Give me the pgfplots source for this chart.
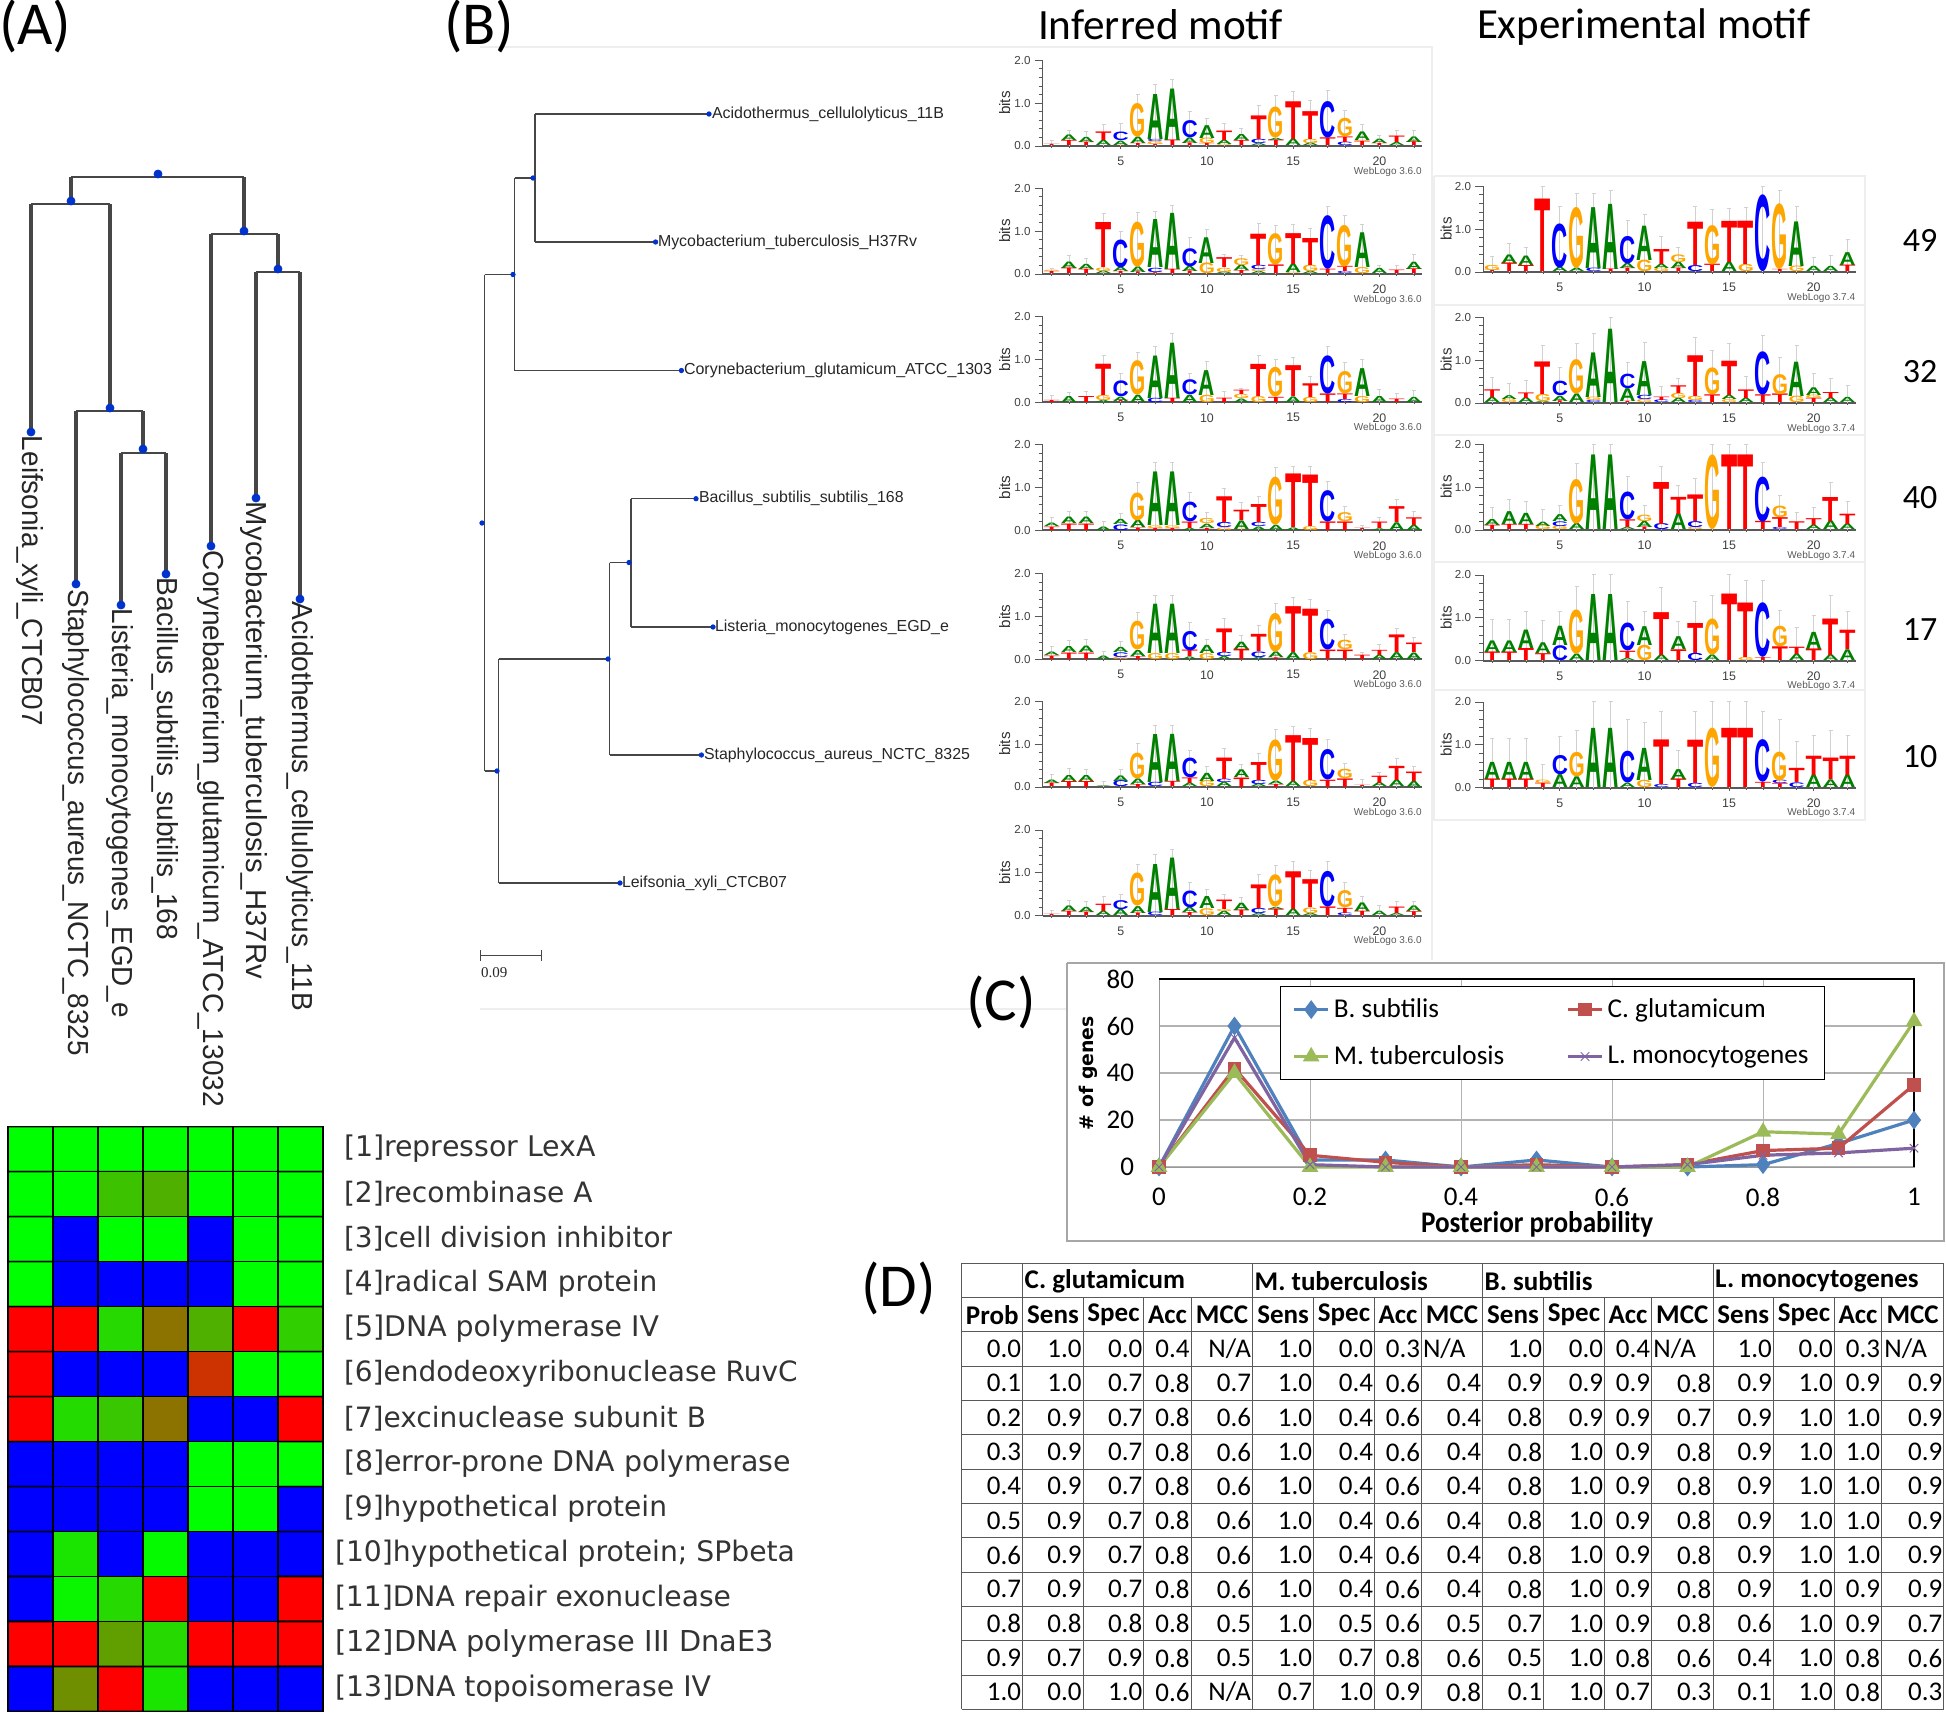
\documentclass[border=0pt]{standalone}
\usepackage{fontspec}
\usepackage{pgfplots}
\pgfplotsset{compat=1.18}
\setmainfont{Liberation Sans}
\newfontfamily\carlito{Carlito}
\newfontfamily\djv{DejaVu Sans}
\newfontfamily\libserif{Liberation Serif}
\definecolor{colA}{RGB}{0,128,0}
\definecolor{colC}{RGB}{0,0,255}
\definecolor{colG}{RGB}{255,165,0}
\definecolor{colT}{RGB}{255,0,0}
\definecolor{cB}{RGB}{79,129,189}
\definecolor{cR}{RGB}{192,80,77}
\definecolor{cG}{RGB}{155,187,89}
\definecolor{cP}{RGB}{128,100,162}
\definecolor{dot}{RGB}{0,50,205}
\definecolor{treeln}{RGB}{70,70,70}
\definecolor{faint}{RGB}{238,238,238}
\newcommand\stacks[1]{%
  \gdef\coords{}%
  \foreach \p/\e/\s in {#1}{\xdef\coords{\coords (\p,\e)}}%
  \edef\temp{\noexpand\addplot[ycomb,color=black!18,line width=.5pt,mark=-,mark size=1pt,mark options={black!18}] coordinates {\coords};}\temp
  \foreach \p/\e/\s in {#1}{%
    \xdef\bb{0}%
    \foreach \L/\h in \s {%
      \pgfmathsetmacro\H{\h*21.43}%
      \edef\temp{\noexpand\node[inner sep=0pt,outer sep=0pt,anchor=south,text=col\L] at (axis cs:\p,\bb) {\noexpand\resizebox*{8.1pt}{\H pt}{\noexpand\bfseries \L}};}%
      \temp
      \pgfmathsetmacro\nb{\bb+\h}\xdef\bb{\nb}%
    }%
  }%
}
\pgfplotsset{logoaxis/.style={anchor=south west,scale only axis,height=42.85pt,clip=false,
  xmin=.475,xmax=22.47,ymin=0,ymax=2,
  axis x line=bottom,axis y line=left,axis line style={-,black!65},
  x axis line style={line width=.9pt},
  xtick={5,10,15,20},xticklabels={5,10,15,20},minor xtick={1,...,22},
  ytick={0,1,2},yticklabels={0.0,1.0,2.0},minor y tick num=4,
  tick align=outside,major tick length=4pt,minor tick length=2pt,
  every tick/.style={black!65,line width=.4pt},
  xtick style={/pgfplots/major tick length=1.5pt,/pgfplots/minor tick length=1pt},
  tick label style={text=black!75},
  xticklabel style={font=\fontsize{6.2}{7}\selectfont,yshift=2pt},
  yticklabel style={font=\fontsize{5.8}{7}\selectfont,xshift=1.4pt},
  ylabel={bits},
  every axis y label/.style={at={(axis description cs:-0.1,0.5)},rotate=90,anchor=center,font=\fontsize{7.6}{9}\selectfont,text=black!80},
}}
\newcommand\logoL[2]{%
\begin{axis}[logoaxis,at={({1042.7*0.5pt},{(1715-#1)*0.5pt})},width=189.65pt]
\stacks{#2}
\node[anchor=east,font=\fontsize{5}{6}\selectfont,text=black!65,inner sep=0pt] at (rel axis cs:1,-.3) {WebLogo 3.6.0};
\end{axis}}
\newcommand\logoR[2]{%
\begin{axis}[logoaxis,at={({1483.3*0.5pt},{(1715-#1)*0.5pt})},width=186.1pt]
\stacks{#2}
\node[anchor=east,font=\fontsize{5}{6}\selectfont,text=black!65,inner sep=0pt] at (rel axis cs:1,-.3) {WebLogo 3.7.4};
\end{axis}}
\begin{document}
\begin{tikzpicture}
\path[use as bounding box] (0,0) rectangle (973pt,857.5pt);
% ---------- overlay axis in picture pixels: trees
\begin{axis}[at={(0,0)},anchor=south west,scale only axis,width=973pt,height=857.5pt,
  xmin=0,xmax=1946,ymin=0,ymax=1715,y dir=reverse,hide axis,clip=false,unbounded coords=jump]
% faint frames
\addplot[color=faint,line width=.8pt] coordinates {(480,47)(1432,47)(1432,960)};
\addplot[color=faint,line width=.8pt] coordinates {(480,1009)(1067,1009)};
\addplot[color=faint,line width=.8pt] coordinates {(1434,176)(1865,176)(1865,820)(1434,820)(1434,176) (0,nan) (1434,305)(1865,305) (0,nan) (1434,435)(1865,435) (0,nan) (1434,562)(1865,562) (0,nan) (1434,690)(1865,690)};
% tree A
\addplot[color=treeln,line width=.9pt] coordinates {(71,177)(244,177) (0,nan) (31,204)(110,204) (0,nan) (76,411)(143,411) (0,nan) (121,453)(166,453) (0,nan) (211,234)(278,234) (0,nan) (256,272)(300,272)};
\addplot[color=treeln,line width=1.8pt] coordinates {(71,177)(71,204) (0,nan) (31,204)(31,432) (0,nan) (110,204)(110,411) (0,nan) (76,411)(76,584) (0,nan) (143,411)(143,453) (0,nan) (121,453)(121,605) (0,nan) (166,453)(166,574) (0,nan) (244,177)(244,234) (0,nan) (211,234)(211,546) (0,nan) (278,234)(278,272) (0,nan) (256,272)(256,498) (0,nan) (300,272)(300,599)};
\addplot[only marks,mark=*,mark size=2pt,color=dot] coordinates {(158,174)(71,201)(244,231)(278,269)(110,408)(143,449)(31,432)(76,584)(121,605)(166,574)(211,546)(256,498)(300,599)};
% tree B
\addplot[color=treeln,line width=.6pt] coordinates {(484.5,274.5)(484.5,771) (0,nan) (484.5,274.5)(514.8,274.5) (0,nan) (514.8,178)(514.8,370.5) (0,nan) (514.8,178)(535,178) (0,nan) (535,114)(535,242) (0,nan) (535,114)(709,114) (0,nan) (535,242)(655.6,242) (0,nan) (514.8,370.5)(681.4,370.5) (0,nan) (484.5,771)(498.6,771) (0,nan) (498.6,659)(498.6,883) (0,nan) (498.6,883)(620,883) (0,nan) (498.6,659)(609.5,659) (0,nan) (609.5,562.5)(609.5,755) (0,nan) (609.5,755)(701.4,755) (0,nan) (609.5,562.5)(631,562.5) (0,nan) (631,498.7)(631,627) (0,nan) (631,498.7)(696,498.7) (0,nan) (631,627)(713,627)};
\addplot[only marks,mark=*,mark size=1.1pt,color=dot] coordinates {(482,523)(513,274.5)(533,178)(709,114)(655.6,242)(681.4,370.5)(497,771)(620,883)(608,659)(701.4,755)(629,562.5)(696,498.7)(713,627)};
\addplot[color=treeln,line width=.5pt] coordinates {(480,955.5)(541,955.5) (0,nan) (480,950)(480,961) (0,nan) (541,950)(541,961)};
% frame of panel C
\addplot[color=black!35,line width=.9pt] coordinates {(1067,963)(1944,963)(1944,1241)(1067,1241)(1067,963)};
\end{axis}
% ---------- heat map
\begin{axis}[at={({8*0.5pt},{(1715-1711.5)*0.5pt})},anchor=south west,scale only axis,width=157.5pt,height=292.45pt,
  xmin=.5,xmax=7.5,ymin=.5,ymax=13.5,y dir=reverse,ticks=none,axis line style={black,line width=.8pt},
  colormap={hm}{rgb255(0pt)=(0,0,255); rgb255(99pt)=(0,0,255); rgb255(100pt)=(255,0,0); rgb255(200pt)=(0,255,0)},
  point meta min=-100,point meta max=100]
\addplot[matrix plot,mesh/cols=7,point meta=explicit,draw=black,line width=.8pt] table[meta=c] {
x y c
1 1 100
2 1 100
3 1 100
4 1 100
5 1 100
6 1 100
7 1 100
1 2 100
2 2 100
3 2 76
4 2 69
5 2 100
6 2 100
7 2 100
1 3 100
2 3 -100
3 3 100
4 3 100
5 3 -100
6 3 100
7 3 100
1 4 100
2 4 -100
3 4 -100
4 4 -100
5 4 -100
6 4 100
7 4 100
1 5 0
2 5 0
3 5 85
4 5 45
5 5 69
6 5 0
7 5 81
1 6 0
2 6 -100
3 6 -100
4 6 -100
5 6 20
6 6 100
7 6 100
1 7 0
2 7 86
3 7 78
4 7 45
5 7 -100
6 7 -100
7 7 0
1 8 -100
2 8 -100
3 8 -100
4 8 -100
5 8 100
6 8 100
7 8 100
1 9 -100
2 9 -100
3 9 -100
4 9 -100
5 9 100
6 9 100
7 9 -100
1 10 -100
2 10 90
3 10 -100
4 10 98
5 10 -100
6 10 -100
7 10 -100
1 11 -100
2 11 96
3 11 85
4 11 0
5 11 -100
6 11 -100
7 11 0
1 12 0
2 12 0
3 12 62
4 12 85
5 12 0
6 12 0
7 12 0
1 13 -100
2 13 56
3 13 0
4 13 90
5 13 -100
6 13 -100
7 13 -100
};
\end{axis}
% ---------- logos, inferred
\logoL{146}{1/.13/{T/.03},2/.37/{T/.12,A/.13},3/.33/{T/.08,A/.12},4/.5/{A/.12,T/.2},5/.53/{G/.02,A/.1,C/.2},6/1.2/{T/.05,A/.15,G/.78},7/1.43/{T/.03,G/.07,C/.05,A/1.05},8/1.56/{T/.13,A/1.2},9/.8/{T/.06,A/.13,C/.4},10/.65/{T/.05,G/.13,A/.3},11/.52/{G/.03,A/.1,T/.22},12/.4/{T/.12,A/.14},13/.95/{A/.05,C/.1,T/.55},14/1.17/{T/.13,A/.05,G/.72},15/1.27/{A/.15,T/.88},16/1.05/{A/.06,G/.1,T/.65},17/1.29/{T/.18,C/.85},18/.82/{C/.08,T/.13,G/.43},19/.5/{T/.1,G/.03,A/.2},20/.25/{T/.05,A/.1},21/.35/{A/.07,T/.15},22/.35/{T/.09,A/.13}}
\logoL{274}{1/.13/{T/.05,G/.03},2/.42/{T/.13,A/.15},3/.35/{T/.1,A/.12},4/1.42/{A/.06,G/.08,T/1.05},5/1.0/{T/.05,A/.1,C/.65},6/1.43/{T/.04,A/.13,G/1.05},7/1.47/{T/.02,G/.02,C/.1,A/1.12},8/1.6/{T/.1,A/1.31},9/.85/{T/.06,A/.12,C/.42},10/1.03/{G/.25,A/.6},11/.45/{A/.04,G/.1,T/.23},12/.42/{T/.07,A/.13,G/.16},13/1.17/{A/.05,G/.05,C/.1,T/.73},14/1.13/{T/.2,G/.73},15/1.15/{G/.03,A/.2,T/.72},16/1.05/{A/.05,G/.15,T/.63},17/1.58/{T/.1,C/1.25},18/1.37/{C/.05,T/.12,G/.97},19/1.15/{G/.14,A/.81},20/.2/{A/.12},21/.2/{T/.08},22/.45/{T/.11,A/.17}}
\logoL{402.3}{1/.15/{T/.05},2/.23/{A/.14},3/.25/{T/.14},4/1.1/{A/.05,G/.12,T/.73},5/.68/{T/.03,A/.1,C/.37},6/1.17/{A/.17,G/.8},7/1.3/{C/.1,A/.99},8/1.6/{T/.1,A/1.29},9/.68/{A/.17,C/.35},10/.95/{G/.17,A/.58},11/.25/{T/.1},12/.33/{A/.08,G/.1,T/.1},13/1.1/{G/.14,T/.75},14/1.0/{T/.12,G/.69},15/1.05/{A/.13,T/.72},16/.6/{G/.12,T/.32},17/1.3/{T/.2,C/.89},18/.93/{C/.07,T/.13,G/.52},19/1.0/{G/.14,A/.65},20/.3/{A/.14},21/.2/{T/.08},22/.27/{A/.12}}
\logoL{530.3}{1/.3/{T/.08,A/.08},2/.45/{T/.15,A/.15},3/.45/{T/.15,A/.15},4/.2/{A/.08},5/.4/{C/.13,A/.12},6/1.12/{T/.06,A/.17,G/.65},7/1.58/{T/.05,G/.06,A/1.25},8/1.58/{T/.05,G/.06,A/1.25},9/.88/{A/.05,T/.15,C/.46},10/.42/{T/.05,A/.1,G/.12},11/.97/{G/.06,C/.12,T/.6},12/.65/{G/.03,A/.2,T/.24},13/.8/{A/.08,C/.1,T/.42},14/1.47/{A/.12,G/1.12},15/1.5/{A/.06,T/1.25},16/1.5/{G/.09,T/1.2},17/1.15/{T/.2,C/.73},18/.55/{T/.2,G/.21},19/.12/{T/.03},20/.3/{A/.04,T/.15},21/.73/{A/.18,T/.37},22/.44/{A/.12,T/.18}}
\logoL{659.3}{1/.3/{T/.08,A/.08},2/.43/{T/.15,A/.14},3/.47/{T/.15,A/.15},4/.18/{A/.08},5/.42/{G/.05,C/.11,A/.12},6/1.1/{T/.07,A/.14,G/.67},7/1.5/{G/.14,A/1.15},8/1.5/{G/.14,A/1.15},9/.87/{A/.06,T/.15,C/.45},10/.47/{G/.14,A/.19},11/.95/{A/.07,C/.1,T/.55},12/.55/{T/.24,A/.17},13/.78/{A/.05,C/.13,T/.4},14/1.3/{T/.04,A/.13,G/.9},15/1.45/{A/.16,T/1.07},16/1.4/{G/.16,T/1.01},17/1.15/{T/.22,C/.72},18/.58/{T/.22,G/.22},19/.17/{T/.1},20/.35/{A/.1,T/.12},21/.73/{A/.16,T/.41},22/.5/{A/.15,T/.22}}
\logoL{787}{1/.3/{T/.08,A/.08},2/.43/{T/.14,A/.14},3/.42/{T/.14,A/.14},4/.14/{A/.02},5/.4/{C/.14,A/.13},6/1.02/{T/.07,A/.13,G/.6},7/1.44/{C/.1,A/1.12},8/1.44/{T/.12,A/1.1},9/.85/{A/.08,T/.13,C/.46},10/.47/{G/.14,A/.19},11/.9/{A/.1,C/.08,T/.5},12/.53/{T/.22,A/.18},13/.79/{A/.06,C/.1,T/.42},14/1.34/{T/.07,A/.08,G/.96},15/1.42/{A/.12,T/1.07},16/1.37/{G/.15,T/.98},17/1.1/{T/.17,C/.71},18/.56/{T/.2,G/.22},19/.17/{T/.03},20/.33/{A/.09,T/.17},21/.67/{A/.15,T/.33},22/.48/{A/.14,T/.22}}
\logoL{915.7}{1/.13/{T/.03},2/.35/{T/.1,A/.13},3/.32/{T/.08,A/.12},4/.44/{A/.1,T/.17},5/.5/{A/.14,C/.21},6/1.2/{T/.06,A/.16,G/.77},7/1.43/{C/.08,A/1.12},8/1.55/{T/.14,A/1.2},9/.78/{T/.07,A/.12,C/.39},10/.6/{G/.16,A/.28},11/.5/{A/.1,G/.05,T/.22},12/.42/{T/.13,A/.17},13/.95/{A/.05,C/.12,T/.55},14/1.18/{T/.15,A/.05,G/.75},15/1.26/{A/.15,T/.88},16/1.05/{A/.05,G/.13,T/.65},17/1.26/{T/.2,C/.83},18/.78/{C/.06,T/.12,G/.4},19/.45/{T/.1,A/.2},20/.23/{A/.1},21/.33/{A/.05,T/.15},22/.32/{T/.09,A/.13}}
% ---------- logos, experimental
\logoR{272}{1/.37/{T/.03,G/.12},2/.66/{T/.2,A/.2},3/.58/{T/.14,A/.22},4/1.99/{T/1.69},5/1.53/{A/.1,C/1.03},6/1.84/{A/.08,G/1.42},7/1.84/{C/.08,A/1.42},8/1.9/{T/.06,A/1.52},9/1.19/{T/.08,A/.12,C/.64},10/1.35/{G/.27,A/.8},11/.83/{G/.08,A/.1,T/.35},12/.58/{T/.08,A/.15,G/.18},13/1.52/{C/.14,T/1.01},14/1.46/{T/.17,G/.92},15/1.48/{A/.22,T/.96},16/1.5/{G/.17,T/1.01},17/2.0/{C/1.79},18/1.9/{T/.05,G/1.53},19/1.53/{G/.13,A/1.04},20/.33/{A/.12},21/.38/{A/.12},22/.75/{T/.15,A/.3}}
\logoR{403}{1/.6/{A/.12,T/.18},2/.45/{G/.08,A/.09},3/.53/{A/.11,T/.13},4/1.35/{A/.03,G/.17,T/.76},5/.82/{T/.04,A/.12,C/.34},6/1.39/{A/.2,G/.8},7/1.62/{C/.05,G/.08,A/1.04},8/2.0/{A/1.71},9/.94/{T/.03,A/.3,C/.34},10/1.41/{G/.07,C/.1,A/.79},11/.38/{C/.06,T/.08},12/.58/{A/.1,G/.12,T/.18},13/1.53/{C/.05,G/.1,T/.95},14/1.23/{T/.18,G/.63},15/1.4/{G/.07,A/.1,T/.8},16/.62/{A/.1,T/.2},17/1.58/{T/.18,C/1.01},18/1.06/{T/.2,G/.47},19/1.35/{G/.15,A/.8},20/.69/{T/.1,G/.08,A/.18},21/.56/{A/.11,T/.14},22/.41/{A/.12}}
\logoR{530}{1/.53/{T/.1,A/.14},2/.71/{T/.12,A/.3},3/.67/{T/.12,A/.26},4/.47/{G/.09,A/.1},5/.57/{G/.08,C/.11,A/.16},6/1.55/{A/.14,G/1.04},7/2.0/{A/1.74},8/2.0/{A/1.74},9/1.25/{A/.05,T/.18,C/.65},10/.58/{T/.06,A/.14,G/.15},11/1.48/{C/.14,T/.98},12/1.03/{A/.37,T/.4},13/1.2/{G/.05,C/.14,T/.62},14/2.0/{G/1.74},15/2.0/{T/1.74},16/2.0/{T/1.74},17/1.58/{T/.19,C/1.05},18/.8/{C/.05,T/.23,G/.27},19/.4/{T/.18},20/.53/{A/.1,T/.16},21/1.12/{A/.2,T/.56},22/.67/{A/.13,T/.24}}
\logoR{660.7}{1/.96/{T/.2,A/.27},2/.96/{T/.2,A/.27},3/1.14/{T/.28,A/.43},4/.93/{T/.16,A/.25},5/1.15/{C/.35,A/.45},6/1.72/{A/.15,G/1.03},7/2.0/{A/1.54},8/2.0/{A/1.54},9/1.37/{A/.05,T/.17,C/.65},10/1.15/{G/.36,A/.44},11/1.7/{A/.13,T/1.0},12/.91/{T/.25,A/.3},13/1.38/{C/.17,T/.7},14/1.52/{A/.13,G/.84},15/2.0/{T/1.55},16/1.88/{G/.07,T/1.27},17/1.88/{T/.07,C/1.27},18/1.18/{T/.32,G/.48},19/.77/{A/.15,T/.17},20/1.06/{T/.27,A/.4},21/1.52/{A/.13,T/.85},22/1.15/{A/.25,T/.45}}
\logoR{787.7}{1/1.15/{T/.2,A/.4},2/1.15/{T/.2,A/.4},3/1.15/{T/.2,A/.4},4/.53/{T/.1,G/.08},5/1.2/{A/.3,C/.45},6/1.33/{A/.25,G/.57},7/2.0/{A/1.38},8/2.0/{A/1.38},9/1.58/{A/.1,C/.74},10/1.52/{G/.17,A/.75},11/1.77/{C/.07,T/1.04},12/.87/{T/.2,A/.23},13/1.77/{C/.1,T/1.01},14/2.0/{G/1.38},15/2.0/{T/1.38},16/2.0/{T/1.38},17/1.77/{T/.12,C/.99},18/1.58/{T/.09,C/.08,G/.67},19/1.07/{C/.11,T/.33},20/1.21/{A/.29,T/.45},21/1.34/{A/.18,T/.5},22/1.21/{A/.29,T/.45}}
% ---------- panel C
\begin{axis}[at={({1159*0.5pt},{(1715-1167)*0.5pt})},anchor=south west,scale only axis,width=377.5pt,height=94pt,
  xmin=0,xmax=1,ymin=0,ymax=80,clip=false,
  xtick={0,0.2,0.4,0.6,0.8,1},xticklabels={0,0.2,0.4,0.6,0.8,1},
  ytick={0,20,40,60,80},yticklabels={0,20,40,60,80},
  grid=major,
  x grid style={black!30,line width=.5pt},
  y grid style={black!30,line width=1pt},
  axis line style={black!40},
  major tick length=0pt,
  tick label style={font=\carlito\fontsize{13.5}{15}\selectfont},
  xticklabel style={yshift=-7pt},
  yticklabel style={xshift=-9pt},
  legend style={at={(.16,.963)},anchor=north west,draw=black,line width=.7pt,fill=white,legend columns=2,
    font=\carlito\fontsize{13.6}{14}\selectfont,
    /tikz/every even column/.append style={column sep=29pt},row sep=8.5pt,
    inner xsep=6pt,inner ysep=4pt},
  legend cell align=left,
]
\addplot[color=cB,line width=1.6pt,mark=diamond*,mark size=3.4pt,mark options={fill=cB}] coordinates {(0,0)(.1,60)(.2,3)(.3,3)(.4,0)(.5,3)(.6,0)(.7,0)(.8,1)(.9,10)(1,20)};
\addplot[color=cR,line width=1.6pt,mark=square*,mark size=2.6pt,mark options={fill=cR}] coordinates {(0,0)(.1,42)(.2,5)(.3,2)(.4,0)(.5,1)(.6,0)(.7,1)(.8,7)(.9,8)(1,35)};
\addplot[color=cG,line width=1.6pt,mark=triangle*,mark size=3.2pt,mark options={fill=cG}] coordinates {(0,0)(.1,40)(.2,0)(.3,0)(.4,0)(.5,0)(.6,0)(.7,0)(.8,15)(.9,14)(1,62)};
\addplot[color=cP,line width=1.6pt,mark=x,mark size=3pt,mark options={line width=.5pt}] coordinates {(0,0)(.1,55)(.2,1)(.3,0)(.4,0)(.5,0)(.6,0)(.7,1)(.8,5)(.9,6)(1,8)};
\addplot[forget plot,color=black,line width=.8pt] coordinates {(0,80)(1,80)(1,0)};
\legend{B. subtilis,C. glutamicum,M. tuberculosis,L. monocytogenes\hspace{7pt}}
\end{axis}
% ---------- text and the table, in picture pixels
\begin{scope}[shift={(0,857.5pt)},x=0.5pt,y=-0.5pt]
\tikzset{lab/.style={inner sep=0pt,outer sep=0pt}}
% panel letters and headings
\node[lab,anchor=west] at (-1,26) {\carlito\fontsize{30.5}{32}\selectfont (A)};
\node[lab,anchor=west] at (444,26) {\carlito\fontsize{30.5}{32}\selectfont (B)};
\node[lab,anchor=west] at (966,1002) {\carlito\fontsize{30.5}{32}\selectfont (C)};
\node[lab,anchor=west] at (861,1288) {\carlito\fontsize{30.5}{32}\selectfont (D)};
\node[lab,anchor=west] at (1038,25) {\resizebox{122.5pt}{!}{\carlito Inferred motif}};
\node[lab,anchor=west] at (1477,27) {\resizebox{167pt}{!}{\carlito Experimental motif}};
% tree A labels (rotated)
\foreach \x/\y/\w/\t in {30/436/145/{Leifsonia\_xyli\_CTCB07},76/590/233/{Staphylococcus\_aureus\_NCTC\_8325},120/609/204.5/{Listeria\_monocytogenes\_EGD\_e},165/578/181/{Bacillus\_subtilis\_subtilis\_168},211/551/278/{Corynebacterium\_glutamicum\_ATCC\_13032},254/502/238.5/{Mycobacterium\_tuberculosis\_H37Rv},300/602/204.5/{Acidothermus\_cellulolyticus\_11B}}
  {\node[lab,rotate=-90,anchor=west,text=black!85] at (\x,\y) {\resizebox{\w pt}{10.5pt}{\t}};}
% tree B labels
\foreach \x/\y/\w/\t in {712/114/116/{Acidothermus\_cellulolyticus\_11B},658/242/129.5/{Mycobacterium\_tuberculosis\_H37Rv},684/370.5/154/{Corynebacterium\_glutamicum\_ATCC\_1303},699/498.7/102.3/{Bacillus\_subtilis\_subtilis\_168},715/627/117/{Listeria\_monocytogenes\_EGD\_e},704/755/133/{Staphylococcus\_aureus\_NCTC\_8325},622/883/82.5/{Leifsonia\_xyli\_CTCB07}}
  {\node[lab,anchor=west,text=black!85] at (\x,\y) {\resizebox{\w pt}{!}{\t}};}
\node[lab,anchor=west,text=black!85] at (481,973) {\libserif\fontsize{7.5}{8}\selectfont 0.09};
% heat map labels
\foreach \x/\y/\w/\t in {344/1149/126/{[1]repressor LexA},344/1194/124.3/{[2]recombinase A},344/1239/164/{[3]cell division inhibitor},344/1284/156.7/{[4]radical SAM protein},344/1329/157.5/{[5]DNA polymerase IV},344/1374/226.8/{[6]endodeoxyribonuclease RuvC},344/1419/181/{[7]excinuclease subunit B},344/1464/223.5/{[8]error-prone DNA polymerase},344/1509/161.5/{[9]hypothetical protein},335/1554/230/{[10]hypothetical protein; SPbeta},335/1599/198/{[11]DNA repair exonuclease},335/1644/219.5/{[12]DNA polymerase III DnaE3},335/1689/188/{[13]DNA topoisomerase IV}}
  {\node[lab,anchor=west,text=black!80] at (\x,\y) {\resizebox{\w pt}{!}{\djv \t}};}
% motif counts
\foreach \y/\t in {240/49,372/32,498/40,630/17,757/10}
  {\node[lab] at (1920,\y) {\carlito\fontsize{17}{18}\selectfont \t};}
% panel C titles
\node[lab,rotate=90] at (1088,1073) {\resizebox{57pt}{!}{\djv\bfseries \# of genes}};
\node[lab] at (1537,1224) {\resizebox{116pt}{10.5pt}{\carlito\bfseries Posterior probability}};
% table D rules
\foreach \y in {1263.3,1297.3,1331.7,1366,1400.3,1434.7,1469,1503.3,1537.7,1572,1606.3,1640.7,1675,1709.3}
  {\draw[black!65,line width=.5pt] (961.8,\y)--(1943.8,\y);}
\foreach \x in {961.8,1022.7,1252.7,1482.6,1713,1943.8}
  {\draw[black!65,line width=.5pt] (\x,1263.3)--(\x,1709.3);}
\foreach \x in {1083,1143.9,1191,1313.6,1374.5,1421.6,1543.5,1604.5,1651.6,1773.4,1834.4,1881.5}
  {\draw[black!65,line width=.5pt] (\x,1297.3)--(\x,1709.3);}
% table D text
\tikzset{tt/.style={lab,font=\carlito\fontsize{13.5}{15}\selectfont}}
\foreach \x/\t in {1024.7/C. glutamicum,1254.7/M. tuberculosis,1484.6/B. subtilis,1715/L. monocytogenes}
  {\node[tt,anchor=west] at (\x,1281) {\bfseries \t};}
\foreach \x/\t in {992.2/Prob,1053/Sens,1113.5/Spec,1167.5/Acc,1222/MCC,1283.1/Sens,1344/Spec,1398/Acc,1452/MCC,1513/Sens,1574/Spec,1628/Acc,1682.3/MCC,1743.2/Sens,1804/Spec,1858/Acc,1912.6/MCC}
  {\node[tt] at (\x,1315) {\bfseries \t};}
\def\lna{LNA}
\def\cx{{1021,1081.5,1142.4,1189.5,1251,1312,1373,1420,1481,1542,1603,1650,1711.3,1771.8,1832.8,1880,1942.3}}
\foreach \ry/\vals in {
 1349/{0.0,1.0,0.0,0.4,N/A,1.0,0.0,0.3,LNA,1.0,0.0,0.4,LNA,1.0,0.0,0.3,LNA},
 1383/{0.1,1.0,0.7,0.8,0.7,1.0,0.4,0.6,0.4,0.9,0.9,0.9,0.8,0.9,1.0,0.9,0.9},
 1417.5/{0.2,0.9,0.7,0.8,0.6,1.0,0.4,0.6,0.4,0.8,0.9,0.9,0.7,0.9,1.0,1.0,0.9},
 1452/{0.3,0.9,0.7,0.8,0.6,1.0,0.4,0.6,0.4,0.8,1.0,0.9,0.8,0.9,1.0,1.0,0.9},
 1486/{0.4,0.9,0.7,0.8,0.6,1.0,0.4,0.6,0.4,0.8,1.0,0.9,0.8,0.9,1.0,1.0,0.9},
 1520.5/{0.5,0.9,0.7,0.8,0.6,1.0,0.4,0.6,0.4,0.8,1.0,0.9,0.8,0.9,1.0,1.0,0.9},
 1555/{0.6,0.9,0.7,0.8,0.6,1.0,0.4,0.6,0.4,0.8,1.0,0.9,0.8,0.9,1.0,1.0,0.9},
 1589/{0.7,0.9,0.7,0.8,0.6,1.0,0.4,0.6,0.4,0.8,1.0,0.9,0.8,0.9,1.0,0.9,0.9},
 1623.5/{0.8,0.8,0.8,0.8,0.5,1.0,0.5,0.6,0.5,0.7,1.0,0.9,0.8,0.6,1.0,0.9,0.7},
 1658/{0.9,0.7,0.9,0.8,0.5,1.0,0.7,0.8,0.6,0.5,1.0,0.8,0.6,0.4,1.0,0.8,0.6},
 1692/{1.0,0.0,1.0,0.6,N/A,0.7,1.0,0.9,0.8,0.1,1.0,0.7,0.3,0.1,1.0,0.8,0.3}}
{
 \foreach \v [count=\c from 0] in \vals {
   \pgfmathsetmacro\xr{\cx[\c]}
   \ifx\v\lna
     \pgfmathsetmacro\xl{\xr-58}
     \node[tt,anchor=west] at (\xl,\ry) {N/A};
   \else
     \node[tt,anchor=east] at (\xr,\ry) {\v};
   \fi
 }
}
\end{scope}
\end{tikzpicture}
\end{document}
